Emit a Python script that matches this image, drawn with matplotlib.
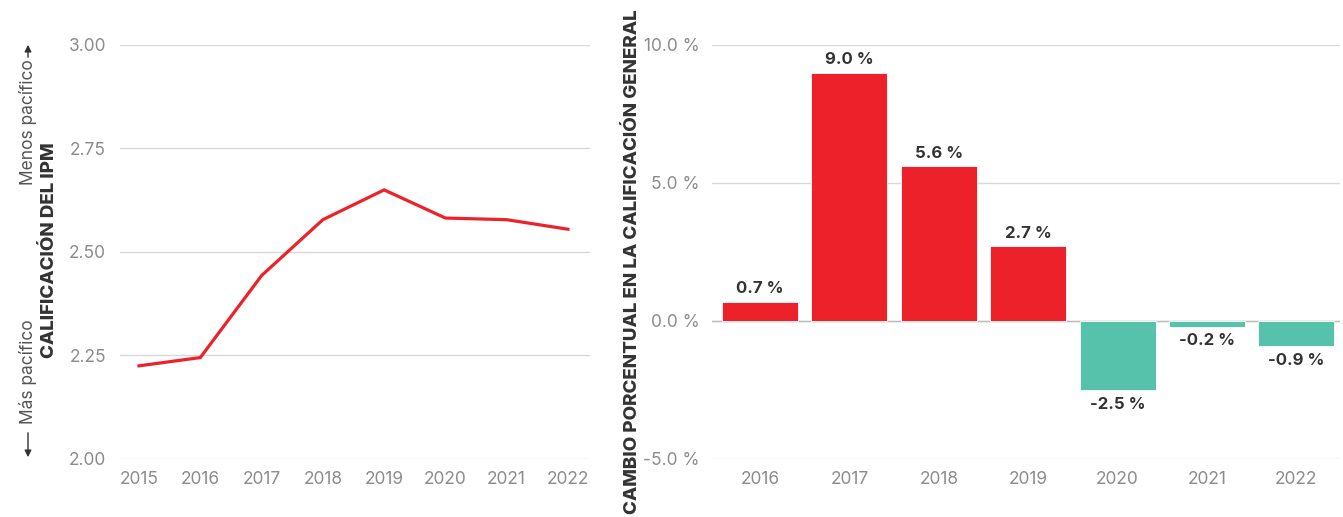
import numpy as np
import matplotlib.pyplot as plt

plt.rcParams['font.family'] = ['Inter', 'DejaVu Sans']

# data
years_line = [2015, 2016, 2017, 2018, 2019, 2020, 2021, 2022]
ipm_score = [2.225, 2.245, 2.443, 2.578, 2.650, 2.582, 2.578, 2.555]

years_bar = ['2016', '2017', '2018', '2019', '2020', '2021', '2022']
pct_change = [0.7, 9.0, 5.6, 2.7, -2.5, -0.2, -0.9]

red = '#ED2129'
teal = '#56C2AB'
grid_col = '#D9D9D9'
tick_col = '#8C8C8C'
dark = '#333333'

fig = plt.figure(figsize=(13.43, 5.17), dpi=100)

# left: line chart
ax1 = fig.add_axes([0.0894, 0.1122, 0.3499, 0.8008])
ax1.plot(years_line, ipm_score, color=red, lw=2.3, solid_joinstyle='miter')
ax1.set_ylim(2.0, 3.0)
ax1.set_xlim(2014.69, 2022.36)
ax1.set_yticks([2.0, 2.25, 2.5, 2.75, 3.0])
ax1.set_yticklabels(['2.00', '2.25', '2.50', '2.75', '3.00'])
ax1.set_xticks(years_line)
ax1.grid(axis='y', color=grid_col, lw=1)
ax1.set_axisbelow(True)
ax1.tick_params(axis='both', length=0, labelsize=12.5, labelcolor=tick_col)
ax1.tick_params(axis='y', pad=10)
ax1.tick_params(axis='x', pad=9)
for s in ax1.spines.values():
    s.set_visible(False)
ax1.set_ylabel('CALIFICACIÓN DEL IPM', fontsize=13.5, fontweight='heavy', color=dark)
ax1.yaxis.set_label_coords(-0.132, 0.505)

# side notes with arrows
xs = 28 / 1343
fig.text(xs, 1 - 122 / 517, 'Menos pacífico', rotation=90, ha='center', va='center',
         fontsize=12.5, color='#555555')
fig.text(xs, 1 - 372 / 517, 'Más pacífico', rotation=90, ha='center', va='center',
         fontsize=12.5, color='#555555')
ax1.annotate('', xy=(xs, 1 - 42 / 517), xytext=(xs, 1 - 60 / 517),
             xycoords='figure fraction', textcoords='figure fraction',
             arrowprops=dict(arrowstyle='-|>', color=dark, lw=1, mutation_scale=10))
ax1.annotate('', xy=(xs, 1 - 460 / 517), xytext=(xs, 1 - 430 / 517),
             xycoords='figure fraction', textcoords='figure fraction',
             arrowprops=dict(arrowstyle='-|>', color=dark, lw=1, mutation_scale=10))

# right: bar chart
ax2 = fig.add_axes([0.530, 0.1122, 0.4678, 0.8008])
x = np.arange(len(years_bar))
colors = [red if v >= 0 else teal for v in pct_change]
ax2.bar(x, pct_change, width=0.85, color=colors, edgecolor='white', linewidth=0.6, zorder=3)
ax2.set_ylim(-5, 10)
ax2.set_xlim(-0.54, 6.49)
ax2.set_yticks([-5, 0, 5, 10])
ax2.set_yticklabels(['-5.0 %', '0.0 %', '5.0 %', '10.0 %'])
ax2.set_xticks(x)
ax2.set_xticklabels(years_bar)
ax2.grid(axis='y', color=grid_col, lw=1, zorder=0)
ax2.axhline(0, color='#BBBBBB', lw=1, zorder=2)
ax2.tick_params(axis='both', length=0, labelsize=12.5, labelcolor=tick_col)
ax2.tick_params(axis='y', pad=9)
ax2.tick_params(axis='x', pad=9)
for s in ax2.spines.values():
    s.set_visible(False)
ax2.set_ylabel('CAMBIO PORCENTUAL EN LA CALIFICACIÓN GENERAL', fontsize=13.5, fontweight='heavy',
               color=dark)
ax2.yaxis.set_label_coords(-0.113, 0.476)

for xi, v in zip(x, pct_change):
    if v >= 0:
        ax2.annotate(f'{v:.1f} %', (xi, v), xytext=(0, 4), textcoords='offset points',
                     ha='center', va='bottom', fontsize=12, fontweight='bold', color=dark)
    else:
        ax2.annotate(f'{v:.1f} %', (xi, v), xytext=(0, -5), textcoords='offset points',
                     ha='center', va='top', fontsize=12, fontweight='bold', color=dark)

fig.savefig('out.png', dpi=100)
